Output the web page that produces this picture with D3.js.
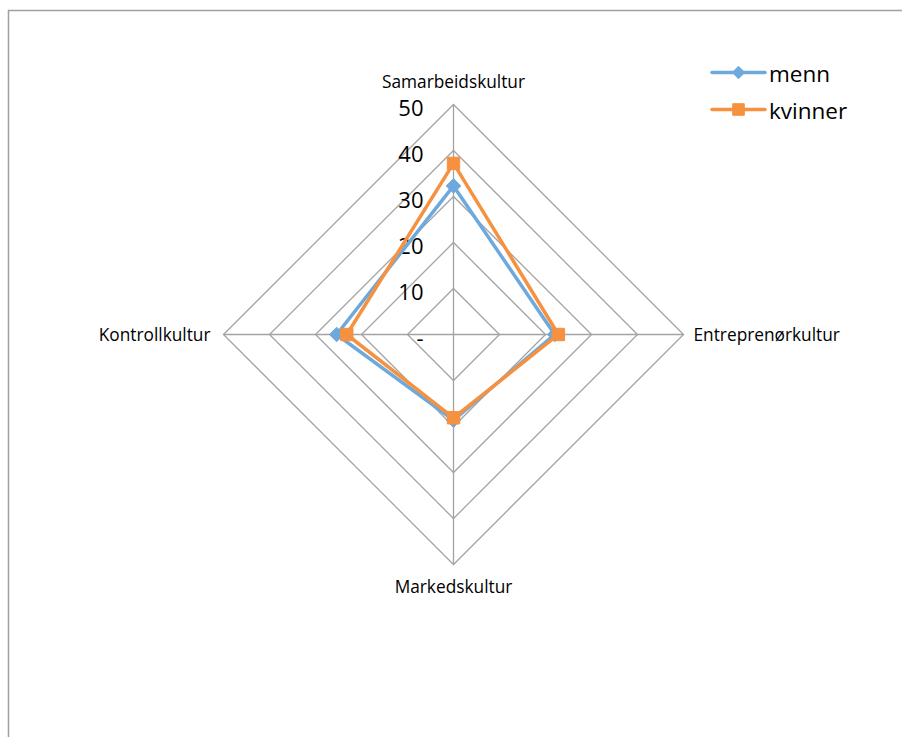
<!DOCTYPE html>
<html>
<head>
<meta charset="utf-8">
<script src="https://cdn.jsdelivr.net/npm/d3@7"></script>
<style>
  html, body { margin: 0; padding: 0; background: #fff; }
  svg { display: block; }
  text { font-family: "Open Sans", "Noto Sans", sans-serif; fill: #000; }
</style>
</head>
<body>
<svg id="chart" width="902" height="737"></svg>
<script>
// Culture dimensions (clockwise from top)
const categories = ["Samarbeidskultur", "Entreprenørkultur", "Markedskultur", "Kontrollkultur"];
const menn    = [32.3, 22.0, 18.6, 25.4];
const kvinner = [37.2, 22.8, 18.1, 23.2];
const tickValues = [0, 10, 20, 30, 40, 50];
const tickLabels = ["-", "10", "20", "30", "40", "50"];
const seriesNames = ["menn", "kvinner"];

const svg = d3.select("#chart");
const cx = 453.5, cy = 334.5, R = 230;
const gridColor = "#a3a3a3";
const colors = { menn: "#6ea9dd", kvinner: "#f5913f" };

// outer frame
svg.append("path")
  .attr("d", "M8.5,737 V10.5 H902")
  .attr("fill", "none").attr("stroke", "#a0a0a0").attr("stroke-width", 1.5);

const r = d3.scaleLinear().domain([0, 50]).range([0, R]);
const angle = d3.scalePoint().domain(categories).range([0, 2 * Math.PI * 3 / 4]);
const pt = (cat, v) => {
  const a = angle(cat);
  return [cx + r(v) * Math.sin(a), cy - r(v) * Math.cos(a)];
};

const g = svg.append("g");

// concentric grid rings
const ring = d3.line();
tickValues.filter(v => v > 0).forEach(v => {
  g.append("path")
    .attr("d", ring(categories.map(c => pt(c, v))) + "Z")
    .attr("fill", "none").attr("stroke", gridColor).attr("stroke-width", 1.3);
});

// spokes
categories.forEach(c => {
  const [x, y] = pt(c, 50);
  g.append("line").attr("x1", cx).attr("y1", cy).attr("x2", x).attr("y2", y)
    .attr("stroke", gridColor).attr("stroke-width", 1.3);
});

// category labels
const labelPos = {
  "Samarbeidskultur": { dx: 0, dy: -23, anchor: "middle" },
  "Entreprenørkultur": { dx: 10, dy: 0, anchor: "start" },
  "Markedskultur": { dx: 0, dy: 22, anchor: "middle" },
  "Kontrollkultur": { dx: -13, dy: 0, anchor: "end" }
};
categories.forEach(c => {
  const [x, y] = pt(c, 50);
  const p = labelPos[c];
  g.append("text").attr("x", x + p.dx).attr("y", y + p.dy)
    .attr("text-anchor", p.anchor).attr("dominant-baseline", "central")
    .style("font-size", "17.3px").text(c);
});

// radial tick labels along the top spoke
tickValues.forEach((v, i) => {
  g.append("text").attr("x", cx - 30).attr("y", cy - r(v) + 2)
    .attr("text-anchor", "end").attr("dominant-baseline", "central")
    .style("font-size", "22px").text(tickLabels[i]);
});

// series
const seriesData = { menn, kvinner };
const lineGen = d3.line();
seriesNames.forEach(name => {
  const vals = seriesData[name];
  const pts = categories.map((c, i) => pt(c, vals[i]));
  g.append("path").attr("d", lineGen(pts) + "Z")
    .attr("fill", "none").attr("stroke", colors[name])
    .attr("stroke-width", 3.5).attr("stroke-linejoin", "round");
  const sym = name === "menn"
    ? d3.symbol(d3.symbolDiamond2, 135)
    : d3.symbol(d3.symbolSquare2, 196);
  pts.forEach(([x, y]) => {
    g.append("path").attr("d", sym()).attr("transform", `translate(${x},${y})`)
      .attr("fill", colors[name]).attr("stroke", colors[name]).attr("stroke-width", 1);
  });
});

// legend
const legend = svg.append("g");
seriesNames.forEach((name, i) => {
  const y = 72.5 + i * 37;
  legend.append("line").attr("x1", 712).attr("x2", 765).attr("y1", y).attr("y2", y)
    .attr("stroke", colors[name]).attr("stroke-width", 3.5).attr("stroke-linecap", "round");
  const sym = name === "menn"
    ? d3.symbol(d3.symbolDiamond2, 100)
    : d3.symbol(d3.symbolSquare2, 170);
  legend.append("path").attr("d", sym()).attr("transform", `translate(738.5,${y})`)
    .attr("fill", colors[name]).attr("stroke", colors[name]);
  legend.append("text").attr("x", 769).attr("y", y + 1).attr("dominant-baseline", "central")
    .style("font-size", "22.5px").text(name);
});
</script>
</body>
</html>
